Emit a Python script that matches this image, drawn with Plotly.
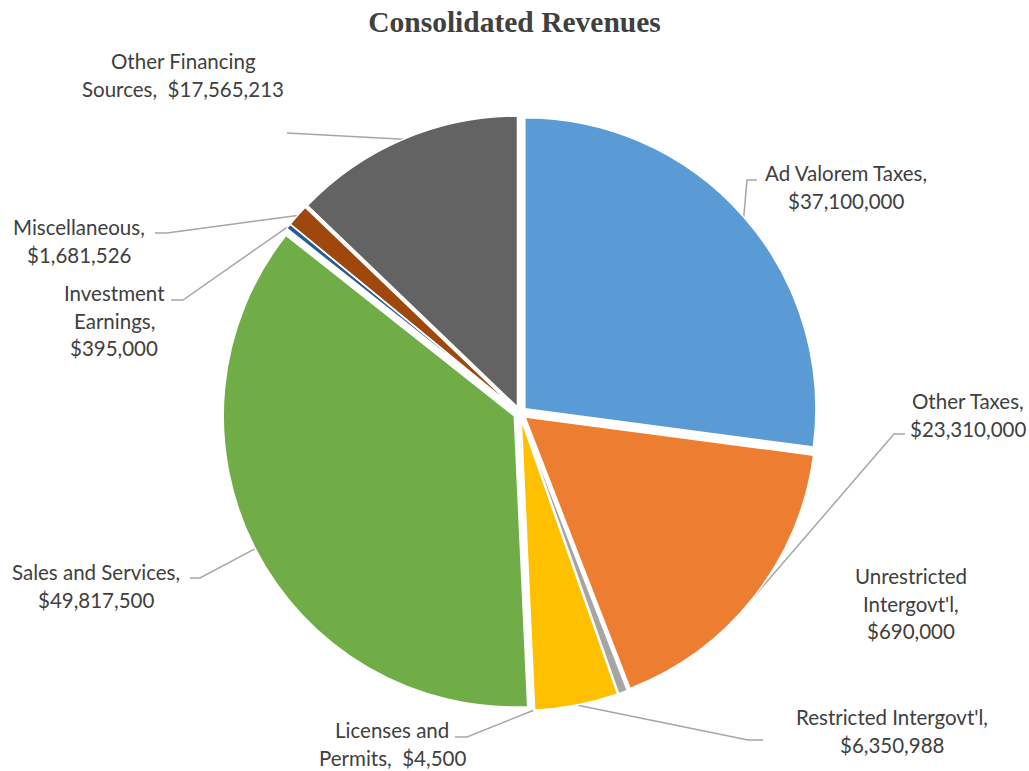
import numpy as np
import plotly.graph_objects as go

# ---------------- data ----------------
categories = ["Ad Valorem Taxes", "Other Taxes", "Unrestricted Intergovt'l",
              "Restricted Intergovt'l", "Licenses and Permits", "Sales and Services",
              "Investment Earnings", "Miscellaneous", "Other Financing Sources"]
values = [37100000, 23310000, 690000, 6350988, 4500, 49817500, 395000, 1681526, 17565213]
label_lines = [
    ["Ad Valorem Taxes,", "$37,100,000"],
    ["Other Taxes,", "$23,310,000"],
    ["Unrestricted", "Intergovt'l,", "$690,000"],
    ["Restricted Intergovt'l,", "$6,350,988"],
    ["Licenses and", "Permits,\u00a0 $4,500"],
    ["Sales and Services,", "$49,817,500"],
    ["Investment", "Earnings,", "$395,000"],
    ["Miscellaneous,", "$1,681,526"],
    ["Other Financing", "Sources,\u00a0 $17,565,213"],
]
title_text = "Consolidated Revenues"

# ---------------- styles / layout ----------------
colors = ["#5B9BD5", "#ED7D31", "#A5A5A5", "#FFC000", "#4472C4",
          "#70AD47", "#255E91", "#9E480E", "#636363"]
W, H = 1029, 771
PIE_CX, PIE_CY = 520.0, 413.0      # pixel centre of pie
PIE_EDGE = 297.5                   # outer radius of pulled slices (px)
PULL = 0.022
TEXT_COLOR = "#404040"
LEADER_COLOR = "#A6A6A6"
LABEL_FONT = dict(family="Lato, Carlito, Calibri, sans-serif", size=20.5, color=TEXT_COLOR)
LINE_H = 27.5
# label placement (centre x, first-line centre y)
label_pos = [(846, 173), (968, 401), (911, 576), (892, 717), (392, 730),
             (96, 572), (114, 293), (79, 227), (183, 61)]
# leader line points on the label side (from label outwards)
leader_start = [
    [(757, 180), (747, 180)],
    [(905, 434), (894, 434)],
    None,
    [(763, 740), (748, 740)],
    [(455, 737), (467, 737)],
    [(190, 578), (200, 578)],
    [(171, 300), (183, 300)],
    [(155, 233), (167, 233)],
    [(287, 133)],
]

# ---------------- figure ----------------
fig = go.Figure()

x0 = (PIE_CX - PIE_EDGE) / W
x1 = (PIE_CX + PIE_EDGE) / W
y0 = 1 - (PIE_CY + PIE_EDGE) / H
y1 = 1 - (PIE_CY - PIE_EDGE) / H

fig.add_trace(go.Pie(
    labels=categories, values=values, sort=False, direction="clockwise", rotation=0,
    marker=dict(colors=colors, line=dict(color="white", width=1.5)),
    pull=[PULL] * len(values), textinfo="none", hoverinfo="label+value",
    domain=dict(x=[x0, x1], y=[y0, y1]), showlegend=False,
))

# leader lines: slice end computed from the slice mid-angles
vals = np.array(values, dtype=float)
cum = np.cumsum(vals)
mid_frac = (cum - vals / 2) / vals.sum()
theta = 2 * np.pi * mid_frac
lx, ly = [], []
for i, pts in enumerate(leader_start):
    if pts is None:
        continue
    ex = PIE_CX + PIE_EDGE * np.sin(theta[i])
    ey = PIE_CY - PIE_EDGE * np.cos(theta[i])
    for (px, py) in pts:
        lx.append(px); ly.append(py)
    lx.append(ex); ly.append(ey)
    lx.append(None); ly.append(None)

fig.add_trace(go.Scatter(x=lx, y=ly, mode="lines",
                         line=dict(color=LEADER_COLOR, width=1.5),
                         hoverinfo="skip", showlegend=False))

annotations = []
for lines, (cx, cy) in zip(label_lines, label_pos):
    for k, t in enumerate(lines):
        annotations.append(dict(x=cx, y=cy + k * LINE_H, xref="x", yref="y", text=t,
                                showarrow=False, xanchor="center", yanchor="middle",
                                font=LABEL_FONT))

fig.update_layout(
    width=W, height=H,
    margin=dict(l=0, r=0, t=0, b=0),
    paper_bgcolor="white", plot_bgcolor="white",
    title=dict(text="<b>" + title_text + "</b>", x=0.5, xanchor="center",
               y=1 - 22 / H, yanchor="middle", yref="container",
               font=dict(family="Liberation Serif, Times New Roman, serif", size=29.5, color=TEXT_COLOR)),
    xaxis=dict(range=[0, W], visible=False, fixedrange=True, domain=[0, 1]),
    yaxis=dict(range=[H, 0], visible=False, fixedrange=True, domain=[0, 1]),
    annotations=annotations,
)

fig.write_html("out.html", config={"displayModeBar": False},
               post_script="document.body.style.margin='0';document.body.style.padding='0';"
                           "document.body.style.overflow='hidden';")
